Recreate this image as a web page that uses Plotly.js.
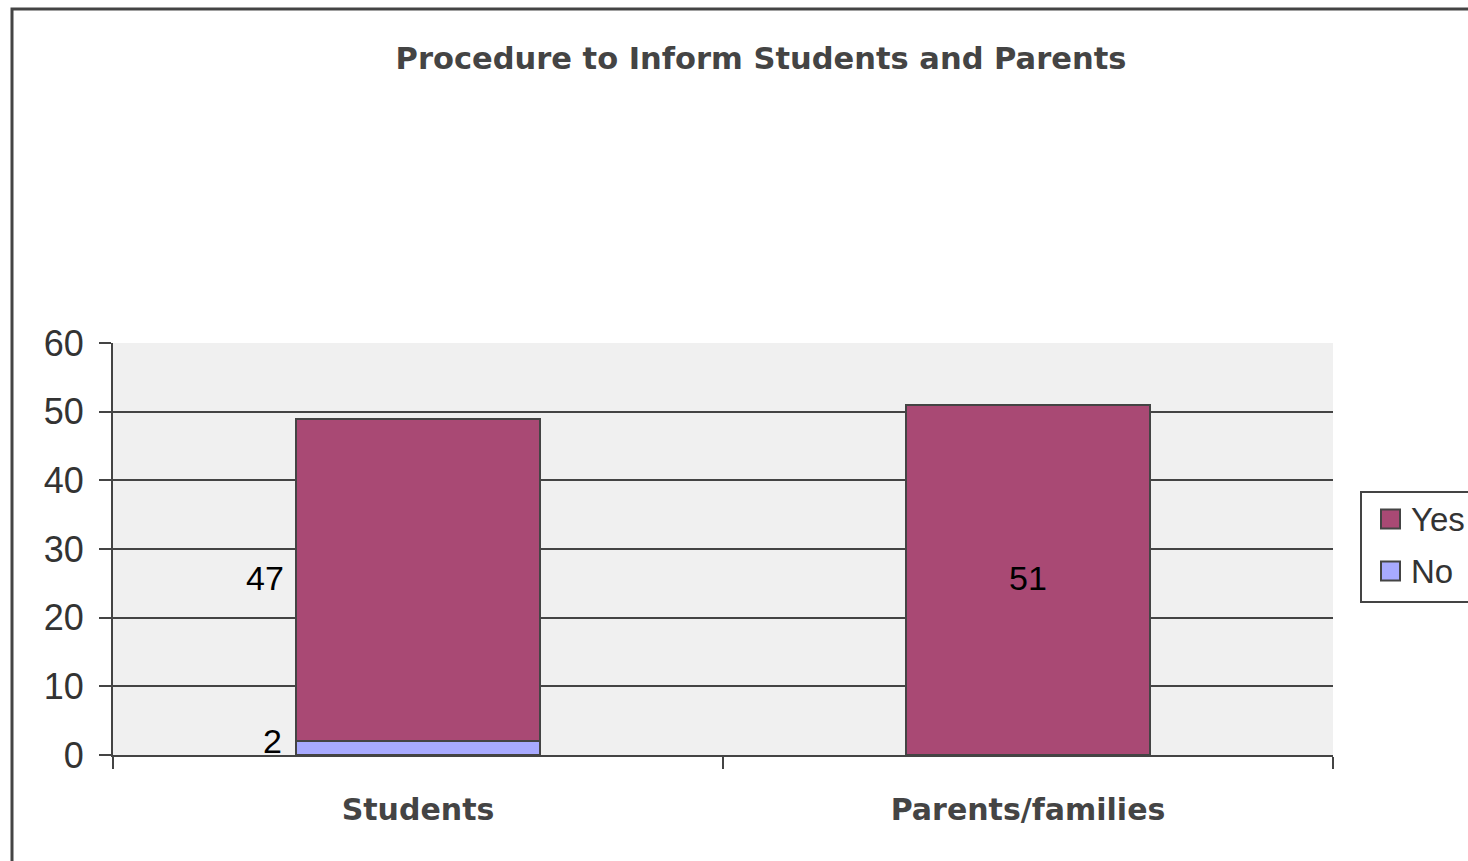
<!DOCTYPE html>
<html>
<head>
<meta charset="utf-8">
<script src="https://cdn.plot.ly/plotly-3.0.1.min.js"></script>
<style>html,body{margin:0;padding:0;background:#fff;}#chart{width:1468px;height:861px;}</style>
</head>
<body>
<div id="chart"></div>
<script>
const categories = ["Students", "Parents/families"];
const seriesNames = ["No", "Yes"];
const noValues = [2, 0];
const yesValues = [47, 51];
const seriesColors = ["#a8aaff", "#a94974"];
const yTicks = [0, 10, 20, 30, 40, 50, 60];
const chartTitle = "Procedure to Inform Students and Parents";

const W = 1468, H = 861, L = 113, R = 135, T = 343, B = 106;
const pw = W - L - R, ph = H - T - B;
const px = v => (v - L) / pw;       // pixel -> paper x
const py = v => (H - B - v) / ph;   // pixel -> paper y

const labelFont = {family: "Liberation Sans, Arial, sans-serif", size: 34, color: "#000"};
const annotations = [];
categories.forEach((c, i) => {
  const yMid = noValues[i] + yesValues[i] / 2;
  if (noValues[i] > 0) {
    annotations.push({x: c, y: noValues[i] / 2, text: String(noValues[i]), showarrow: false,
      xanchor: "right", yanchor: "middle", xshift: -134, yshift: 7, font: labelFont});
    annotations.push({x: c, y: yMid, text: String(yesValues[i]), showarrow: false,
      xanchor: "right", yanchor: "middle", xshift: -132, yshift: 2, font: labelFont});
  } else {
    annotations.push({x: c, y: yMid, text: String(yesValues[i]), showarrow: false,
      xanchor: "center", yanchor: "middle", yshift: 2, font: labelFont});
  }
});

// legend drawn manually (Yes on top, No below)
const legendShapes = [
  {type: "rect", xref: "paper", yref: "paper", x0: px(1361), x1: px(1520), y0: py(602), y1: py(492),
   line: {color: "#444", width: 2}, fillcolor: "#fff"}
];
const legendOrder = [1, 0];
legendOrder.forEach((s, k) => {
  const cy = 519 + k * 52;
  legendShapes.push({type: "rect", xref: "paper", yref: "paper",
    x0: px(1381), x1: px(1400), y0: py(cy + 9.5), y1: py(cy - 9.5),
    line: {color: "#444", width: 2}, fillcolor: seriesColors[s]});
  annotations.push({xref: "paper", yref: "paper", x: px(1409), y: py(cy), text: seriesNames[s],
    showarrow: false, xanchor: "left", yanchor: "middle",
    font: {family: "Liberation Sans, Arial, sans-serif", size: 33, color: "#333"}});
});

const data = [
  {type: "bar", name: seriesNames[0], x: categories, y: noValues, width: 0.4, showlegend: false,
   marker: {color: seriesColors[0], line: {color: "#444", width: 2}}},
  {type: "bar", name: seriesNames[1], x: categories, y: yesValues, width: 0.4, showlegend: false,
   marker: {color: seriesColors[1], line: {color: "#444", width: 2}}}
];

const layout = {
  width: W, height: H,
  margin: {l: L, r: R, t: T, b: B, pad: 0, autoexpand: false},
  paper_bgcolor: "#fff", plot_bgcolor: "#f0f0f0",
  barmode: "stack",
  showlegend: false,
  title: {text: chartTitle, x: 761 / W, xref: "container", xanchor: "center",
          y: 1 - 58 / H, yref: "container", yanchor: "middle",
          font: {family: "DejaVu Sans, sans-serif", size: 30.5, color: "#444", weight: "bold"}},
  xaxis: {type: "category", tickson: "boundaries", ticks: "outside", ticklen: 12, tickwidth: 2, tickcolor: "#444",
          showline: true, linecolor: "#444", linewidth: 2, showgrid: false, zeroline: false,
          range: [-0.5, 1.5], ticklabelstandoff: 27,
          tickfont: {family: "DejaVu Sans, sans-serif", size: 30, color: "#444", weight: "bold"}},
  yaxis: {range: [0, 60], tickvals: yTicks, ticks: "outside", ticklen: 12, tickwidth: 2, tickcolor: "#444",
          showline: true, linecolor: "#444", linewidth: 2, showgrid: true, gridcolor: "#444", gridwidth: 2,
          zeroline: false, ticklabelstandoff: 8,
          tickfont: {family: "Liberation Sans, Arial, sans-serif", size: 36, color: "#333"}},
  annotations: annotations,
  shapes: [
    {type: "rect", xref: "paper", yref: "paper", x0: px(12), x1: px(1520), y0: py(900), y1: py(9),
     line: {color: "#444", width: 3}, fillcolor: "rgba(0,0,0,0)", layer: "below"}
  ].concat(legendShapes)
};

Plotly.newPlot("chart", data, layout, {displayModeBar: false, staticPlot: true});
</script>
</body>
</html>
